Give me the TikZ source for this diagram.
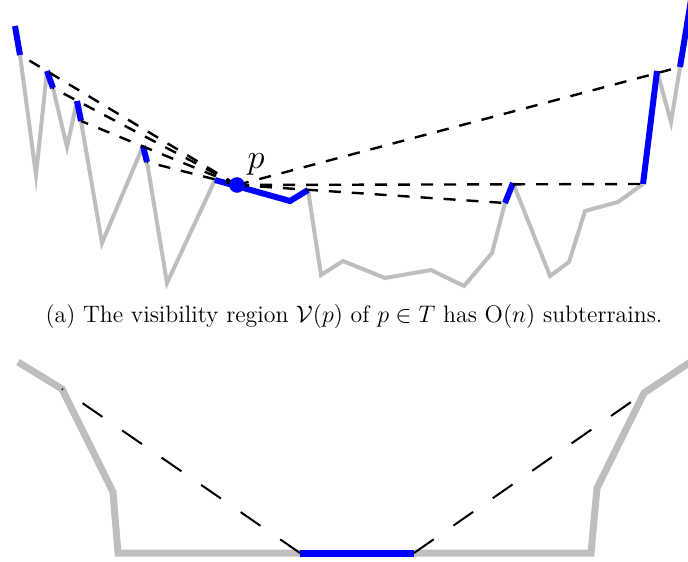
\documentclass[tikz,border=0pt]{standalone}
\definecolor{gristerrain}{RGB}{190,190,190}
\begin{document}
\begin{tikzpicture}[x=0.5pt,y=-0.5pt,
  terrain/.style={gristerrain,line width=2pt},
  visible/.style={blue,line width=3pt},
  vue/.style={black,line width=1.2pt,dash pattern=on 6pt off 5.5pt},
  terrainb/.style={gristerrain,line width=3.5pt},
  visibleb/.style={blue,line width=3.5pt},
  vueb/.style={black,line width=1pt,dash pattern=on 12pt off 12pt}]
\useasboundingbox (0,0) rectangle (688,561);
% Terrain (a)
\coordinate (a1) at (15,26);
\coordinate (a2) at (20,55);
\coordinate (a4) at (47,71);
\coordinate (a5) at (53,88);
\coordinate (a7) at (77,101);
\coordinate (a8) at (81,121);
\coordinate (a10) at (143,146);
\coordinate (a11) at (147,162);
\coordinate (a13) at (215,180);
\coordinate (p) at (237,185);
\coordinate (a14) at (290,201);
\coordinate (a15) at (308,190);
\coordinate (a22) at (505,203);
\coordinate (a23) at (513,183);
\coordinate (a28) at (643,184);
\coordinate (a29) at (657,71);
\coordinate (a31) at (680,67);
\coordinate (a32) at (691,0);
\draw[terrain] (a2) -- (36,175) -- (a4) (a5) -- (67,147) -- (a7)
  (a8) -- (102,243) -- (a10) (a11) -- (167,283) -- (a13)
  (a15) -- (321,275) -- (343,261) -- (385,278) -- (431,270) -- (464,286)
  -- (492,253) -- (a22) (a23) -- (550,276) -- (569,262) -- (585,211)
  -- (618,202) -- (a28) (a29) -- (671,122) -- (a31);
\draw[visible] (a1) -- (a2);
\draw[visible] (a4) -- (a5);
\draw[visible] (a7) -- (a8);
\draw[visible] (a10) -- (a11);
\draw[visible] (a13) -- (a14) -- (a15);
\draw[visible] (a22) -- (a23);
\draw[visible] (a28) -- (a29);
\draw[visible] (a31) -- (a32);
\foreach \cible in {a2,a5,a8,a11,a22,a28,a31}
  \draw[vue] (p) -- (\cible);
\fill[blue] (p) circle (3.9pt);
\node[font=\fontsize{18}{21}\selectfont] (etiq) at (256,164) {$p$};
\node[font=\fontsize{11.9}{14}\selectfont] (legende) at (354,316) {(a) The visibility region $\mathcal{V}(p)$ of $p\in T$ has $\mathrm{O}(n)$ subterrains.};
% Terrain (b)
\coordinate (b2) at (62,389);
\coordinate (b5) at (300,553);
\coordinate (b6) at (414,553);
\coordinate (b9) at (644,393);
\draw[terrainb] (18,362) -- (b2) -- (113,492) -- (118,553) -- (b5)
  (b6) -- (591,553) -- (597,488) -- (b9) -- (692,361);
\draw[visibleb] (b5) -- (b6);
\draw[vueb] (b5) -- (b2);
\draw[vueb] (b6) -- (b9);
\end{tikzpicture}
\end{document}
